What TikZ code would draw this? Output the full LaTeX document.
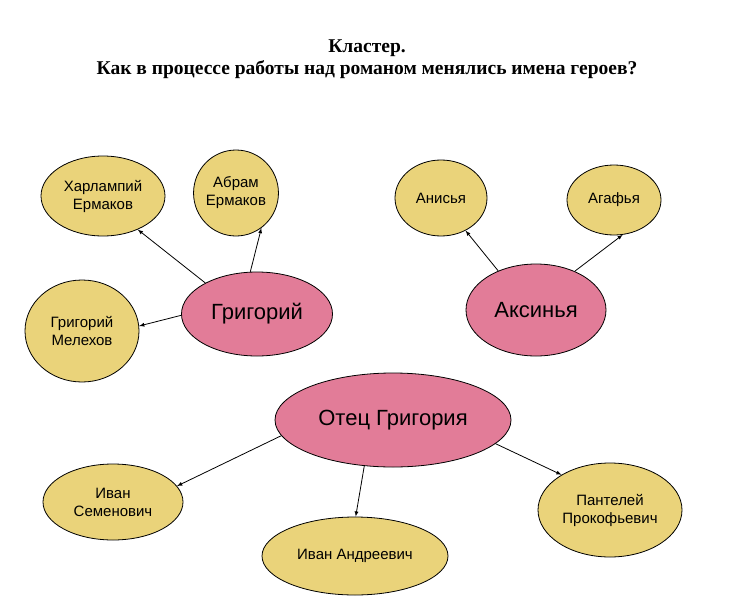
\documentclass[tikz,border=0pt]{standalone}
\usepackage{fontspec}
\setmainfont{Liberation Serif}
\newfontfamily\namefont{Liberation Sans}
\usepackage{xcolor}
\usepackage{tikz}
\usetikzlibrary{shapes.geometric,arrows,positioning}
\definecolor{nameyellow}{RGB}{234,211,122}
\definecolor{heropink}{RGB}{226,124,152}

\begin{document}
\begin{tikzpicture}[x=1pt, y=-1pt, line width=0.8pt, >=latex]
   \useasboundingbox (0,0) rectangle (733,597);
   \node[align=center, font=\bfseries\fontsize{19.5}{22}\selectfont] (title) at (367,59)
      {Кластер.\\Как в процессе работы над романом менялись имена героев?};
   \begin{scope}[every node/.style={ellipse,draw=black,inner sep=0pt,align=center,
        fill=nameyellow,font=\namefont\fontsize{15}{18}\selectfont}]
    \node (hero1) at (257,314) [fill=heropink,minimum width=151pt,minimum height=84pt,
        font=\namefont\fontsize{22}{26}\selectfont] {Григорий};
    \node (hero2) at (536,310) [fill=heropink,minimum width=140pt,minimum height=92pt,
        font=\namefont\fontsize{22}{26}\selectfont] {Аксинья};
    \node (hero3) at (393,420) [fill=heropink,minimum width=236pt,minimum height=94pt,
        font=\namefont\fontsize{22}{26}\selectfont] {Отец Григория};
    \node (n1) at (103,196) [minimum width=124pt,minimum height=80pt] {Харлампий\\Ермаков};
    \node (n2) at (236,193) [minimum width=82pt,minimum height=86pt] {Абрам\\Ермаков};
    \node (n3) at (82,331) [minimum width=114pt,minimum height=102pt] {Григорий\\Мелехов};
    \node (n4) at (441,198) [minimum width=92pt,minimum height=76pt] {Анисья};
    \node (n5) at (614,200) [minimum width=94pt,minimum height=70pt] {Агафья};
    \node (n6) at (113,502) [minimum width=140pt,minimum height=76pt] {Иван\\Семенович};
    \node (n7) at (355,556) [minimum width=186pt,minimum height=78pt] {Иван Андреевич};
    \node (n8) at (610,510) [minimum width=144pt,minimum height=94pt] {Пантелей\\Прокофьевич};
   \end{scope}
   \begin{scope}[every edge/.style={draw=black,line width=0.8pt,->}]
    \draw  (hero1.149) edge (n1.316);
    \draw  (hero1.99) edge (n2.306);
    \draw  (hero1.181) edge (n3.5);
    \draw  (hero2.134) edge (n4.307);
    \draw  (hero2.45) edge (n5.284);
    \draw  (hero3.188) edge (n6.14);
    \draw  (hero3.238) edge (n7.89);
    \draw  (hero3.347) edge (n8.144);
   \end{scope}
\end{tikzpicture}
\end{document}
